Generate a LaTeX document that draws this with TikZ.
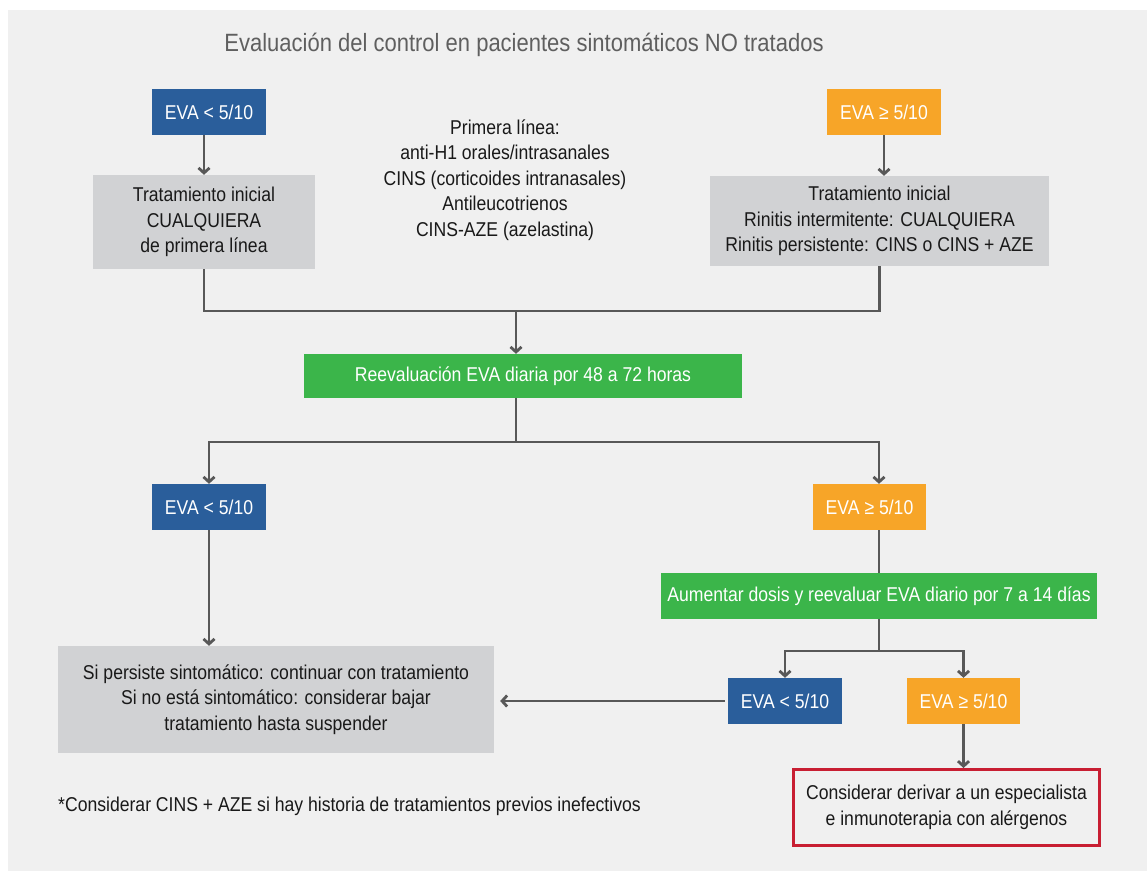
\documentclass[tikz,border=0pt]{standalone}
\usepackage{fontspec}
\setmainfont{Liberation Sans}[FakeStretch=0.88]
\usetikzlibrary{arrows.meta}
\definecolor{panelbg}{RGB}{240,240,240}
\definecolor{evablue}{RGB}{42,94,155}
\definecolor{evaorange}{RGB}{247,165,40}
\definecolor{evagreen}{RGB}{59,181,74}
\definecolor{boxgray}{RGB}{209,210,212}
\definecolor{linegray}{RGB}{88,88,88}
\definecolor{redline}{RGB}{200,30,50}
\definecolor{titlegray}{RGB}{95,95,95}
\definecolor{bodytext}{RGB}{25,25,25}
\tikzset{
  base/.style={rectangle, inner sep=0pt, align=center, font=\fontsize{20}{25.5}\selectfont},
  evab/.style={base, fill=evablue, text=white, minimum width=114pt, minimum height=46pt},
  evao/.style={base, fill=evaorange, text=white, minimum width=114pt, minimum height=46pt},
  greenbox/.style={base, fill=evagreen, text=white, minimum height=45pt},
  graybox/.style={base, fill=boxgray, text=bodytext},
  plaintext/.style={base, text=bodytext},
  conn/.style={draw=linegray, line width=2.8pt},
  arr/.style={conn, -{Straight Barb[length=5pt,width=11pt]}},
}
\begin{document}
\begin{tikzpicture}[x=1pt,y=-1pt]
\useasboundingbox (0,0) rectangle (1147,871);
\fill[white] (0,0) rectangle (1147,871);
\fill[panelbg] (8,10) rectangle (1147,871);
% title
\node[base, text=titlegray, font=\fontsize{25}{30}\selectfont] (title) at (524,45) {Evaluación del control en pacientes sintomáticos NO tratados};
% top row
\node[evab] (b1) at (209,112) {EVA < 5/10};
\node[evao] (o1) at (884,112) {EVA ≥ 5/10};
\node[graybox, minimum width=222pt, minimum height=94pt] (g1) at (204,222) {Tratamiento inicial\\CUALQUIERA\\de primera línea};
\node[graybox, minimum width=339pt, minimum height=90pt] (g2) at (879.5,221) {Tratamiento inicial\\Rinitis intermitente: CUALQUIERA\\Rinitis persistente: CINS o CINS + AZE};
\node[plaintext] (mid) at (505,180) {Primera línea:\\anti-H1 orales/intrasanales\\CINS (corticoides intranasales)\\Antileucotrienos\\CINS-AZE (azelastina)};
% re-evaluation
\node[greenbox, minimum width=438pt, minimum height=44pt] (gr1) at (523,376) {Reevaluación EVA diaria por 48 a 72 horas};
\node[evab] (b2) at (209,507) {EVA < 5/10};
\node[evao, minimum width=113pt] (o2) at (869.5,507) {EVA ≥ 5/10};
\node[greenbox, minimum width=436pt, minimum height=46pt] (gr2) at (879,596) {Aumentar dosis y reevaluar EVA diario por 7 a 14 días};
\node[evab] (b3) at (785,701) {EVA < 5/10};
\node[evao, minimum width=113pt] (o3) at (963.5,701) {EVA ≥ 5/10};
\node[graybox, minimum width=436pt, minimum height=107pt] (g3) at (276,699.5) {Si persiste sintomático: continuar con tratamiento\\Si no está sintomático: considerar bajar\\tratamiento hasta suspender};
\node[plaintext, draw=redline, line width=3pt, minimum width=306pt, minimum height=76pt] (red) at (946.5,807.5) {Considerar derivar a un especialista\\e inmunoterapia con alérgenos};
\node[plaintext, anchor=west] (foot) at (58,806) {*Considerar CINS + AZE si hay historia de tratamientos previos inefectivos};
% junction points
\coordinate (m) at (516,311);
\coordinate (s) at (516,442);
\coordinate (t) at (879,651);
% connectors
\draw[arr] (b1.south -| g1.north) -- (g1.north);
\draw[arr] (o1.south) -- (o1.south |- g2.north);
\draw[conn] (g1.south) |- (m) -| (g2.south);
\draw[arr] (m) -- (m |- gr1.north);
\draw[conn] (gr1.south -| s) -- (s);
\draw[arr] (s) -| (b2.north);
\draw[arr] (s) -| (o2.north -| gr2.north);
\draw[conn] (o2.south -| gr2.north) -- (gr2.north);
\draw[conn] (gr2.south) -- (t);
\draw[arr] (t) -| (b3.north);
\draw[arr] (t) -| (o3.north);
\draw[arr] (o3.south) -- (o3.south |- red.north);
\draw[arr] (b2.south) -- (b2.south |- g3.north);
\draw[arr, shorten <=3pt, shorten >=6pt] (b3.west) -- (b3.west -| g3.east);
\end{tikzpicture}
\end{document}
